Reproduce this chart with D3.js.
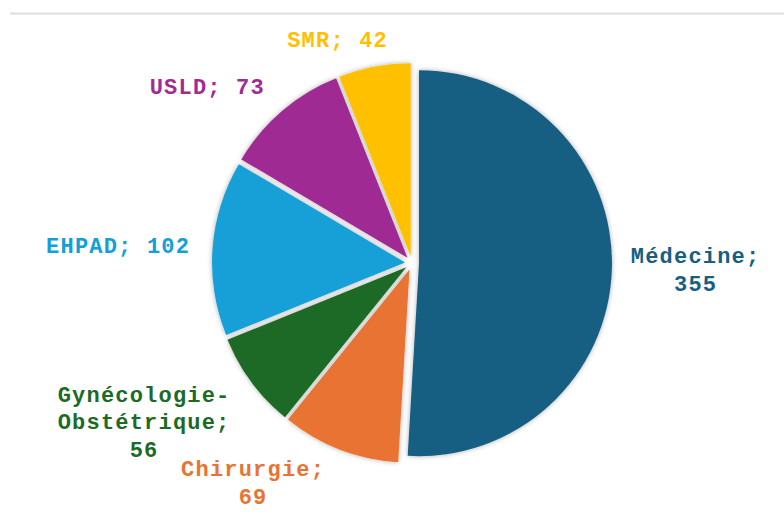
<!DOCTYPE html>
<html><head><meta charset="utf-8">
<script src="https://cdn.jsdelivr.net/npm/d3@7"></script>
<style>html,body{margin:0;padding:0;background:#fff;} svg{display:block}</style>
</head><body>
<svg id="chart" width="784" height="512"></svg>
<script>
// ---- data ----
const categories = ["Médecine", "Chirurgie", "Gynécologie-Obstétrique", "EHPAD", "USLD", "SMR"];
const values = [355, 69, 56, 102, 73, 42];
const colors = ["#175f82", "#e97333", "#1b6a26", "#13a0d7", "#a02b93", "#ffc000"];

// ---- layout ----
const W = 784, H = 512, cx = 412, cy = 263, R = 193, explode = 7;
// label anchor offsets (relative to pie centre): [dx, dy of first baseline, max chars per line]
const labelLayout = [
  [283, 0, 9],
  [-159.5, 213, 10],
  [-268.5, 138.7, 12],
  [-294.5, -10, 99],
  [-205.3, -169, 99],
  [-75, -215.7, 99]
];
const lineH = 27.5;

const svg = d3.select("#chart");
const defs = svg.append("defs");
const f = defs.append("filter").attr("id", "sh").attr("x", "-20%").attr("y", "-20%").attr("width", "140%").attr("height", "140%");
f.append("feDropShadow").attr("dx", 0).attr("dy", 0).attr("stdDeviation", 2.5)
  .attr("flood-color", "#000").attr("flood-opacity", 0.32);

// top rule
svg.append("line").attr("x1", 10).attr("x2", W).attr("y1", 13.5).attr("y2", 13.5)
  .attr("stroke", "#dedede").attr("stroke-width", 2);

const data = categories.map((c, i) => ({ cat: c, value: values[i], color: colors[i], i }));
const pie = d3.pie().sort(null).value(d => d.value);
const arcs = pie(data);
const arc = d3.arc().innerRadius(0).outerRadius(R);

const g = svg.append("g").attr("transform", `translate(${cx},${cy})`);
g.selectAll("path").data(arcs).join("path")
  .attr("d", arc)
  .attr("fill", d => d.data.color)
  .attr("filter", "url(#sh)")
  .attr("transform", d => {
    const a = (d.startAngle + d.endAngle) / 2;
    return `translate(${explode * Math.sin(a)},${-explode * Math.cos(a)})`;
  });

function wrap(text, maxChars) {
  const toks = [];
  text.split(" ").forEach((w, wi) => {
    w.split(/(?<=-)/).forEach((p, pi) => toks.push({ s: p, sep: (pi === 0 && wi > 0) ? " " : "" }));
  });
  const lines = [];
  let cur = "";
  toks.forEach(t => {
    if (cur === "") cur = t.s;
    else if ((cur + t.sep + t.s).length <= maxChars) cur = cur + t.sep + t.s;
    else { lines.push(cur); cur = t.s; }
  });
  if (cur) lines.push(cur);
  return lines;
}

const lab = g.selectAll("text.lab").data(arcs).join("text")
  .attr("class", "lab")
  .attr("text-anchor", "middle")
  .attr("font-family", "'Courier New','Liberation Mono',monospace")
  .attr("font-weight", "bold")
  .attr("font-size", 22)
  .attr("letter-spacing", 1.2)
  .attr("fill", d => d.data.color);
lab.each(function(d) {
  const L = labelLayout[d.data.i];
  const lines = wrap(`${d.data.cat}; ${d.data.value}`, L[2]);
  d3.select(this).selectAll("tspan").data(lines).join("tspan")
    .attr("x", L[0] + 0.6)
    .attr("y", (s, k) => L[1] + k * lineH)
    .text(s => s);
});
</script>
</body></html>
